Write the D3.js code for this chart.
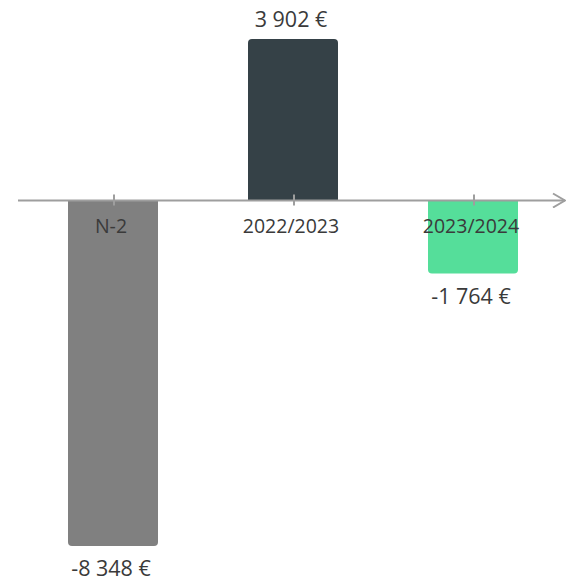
<!DOCTYPE html>
<html lang="fr">
<head>
<meta charset="UTF-8">
<title>Résultat par exercice</title>
<script src="https://d3js.org/d3.v7.min.js"></script>
<style>
    body { margin: 0; background: #fff; }
    svg { font-family: "Open Sans", sans-serif; }
    .cat { font-size: 19.5px; fill: #3a3a3a; }
    .val { font-size: 21.5px; fill: #3a3a3a; }
</style>
</head>
<body>
<div id="chart"></div>
<script>
const categories = ["N-2", "2022/2023", "2023/2024"];
const values = [-8348, 3902, -1764];
const colors = ["#808080", "#354147", "#55de9a"];

const width = 577, height = 583;

const x = d3.scaleBand()
    .domain(categories)
    .range([23, 563])
    .paddingInner(0.5)
    .paddingOuter(0.25);

const y = d3.scaleLinear()
    .domain([d3.min(values), d3.max(values)])
    .range([546, 39]);

// french style: space for thousands, plain hyphen for minus
const fr = d3.formatLocale({ decimal: ",", thousands: " ", grouping: [3], currency: ["", " €"], minus: "-" });
const fmt = v => fr.format(",d")(v) + " €";

const svg = d3.select("#chart").append("svg")
    .attr("width", width)
    .attr("height", height);

const y0 = y(0);
const r = 4;

// bar path: rounded on the end away from the axis
function barPath(xl, w, v) {
    const yv = y(v);
    const s = v >= 0 ? 1 : -1;
    return `M${xl},${y0}V${yv + s * r}Q${xl},${yv} ${xl + r},${yv}H${xl + w - r}Q${xl + w},${yv} ${xl + w},${yv + s * r}V${y0}Z`;
}

const data = categories.map((c, i) => ({ cat: c, value: values[i], color: colors[i] }));

svg.selectAll("path.bar")
    .data(data)
    .join("path")
    .attr("class", "bar")
    .attr("fill", d => d.color)
    .attr("d", d => barPath(x(d.cat), x.bandwidth(), d.value));

// axis line with arrow
svg.append("defs").append("marker")
    .attr("id", "arrow")
    .attr("viewBox", "0 0 14 16")
    .attr("refX", 13)
    .attr("refY", 8)
    .attr("markerWidth", 14)
    .attr("markerHeight", 16)
    .attr("markerUnits", "userSpaceOnUse")
    .attr("orient", "auto")
    .append("path")
    .attr("d", "M1,1L13,8L1,15")
    .attr("fill", "none")
    .attr("stroke", "#9e9e9e")
    .attr("stroke-width", 2);

svg.append("line")
    .attr("x1", 18).attr("x2", 565)
    .attr("y1", y0).attr("y2", y0)
    .attr("stroke", "#9e9e9e")
    .attr("stroke-width", 2)
    .attr("marker-end", "url(#arrow)");

svg.selectAll("line.tick")
    .data(categories)
    .join("line")
    .attr("class", "tick")
    .attr("x1", d => x(d) + x.bandwidth() / 2 + 1)
    .attr("x2", d => x(d) + x.bandwidth() / 2 + 1)
    .attr("y1", y0 - 6).attr("y2", y0 + 5)
    .attr("stroke", "#9e9e9e")
    .attr("stroke-width", 2);

svg.selectAll("text.cat")
    .data(categories)
    .join("text")
    .attr("class", "cat")
    .attr("text-anchor", "middle")
    .attr("x", d => x(d) + x.bandwidth() / 2 - 2)
    .attr("y", y0 + 33)
    .text(d => d);

svg.selectAll("text.val")
    .data(data)
    .join("text")
    .attr("class", "val")
    .attr("text-anchor", "middle")
    .attr("x", d => x(d.cat) + x.bandwidth() / 2 - 2)
    .attr("y", d => d.value >= 0 ? y(d.value) - 12 : y(d.value) + 30)
    .text(d => fmt(d.value));
</script>
</body>
</html>
